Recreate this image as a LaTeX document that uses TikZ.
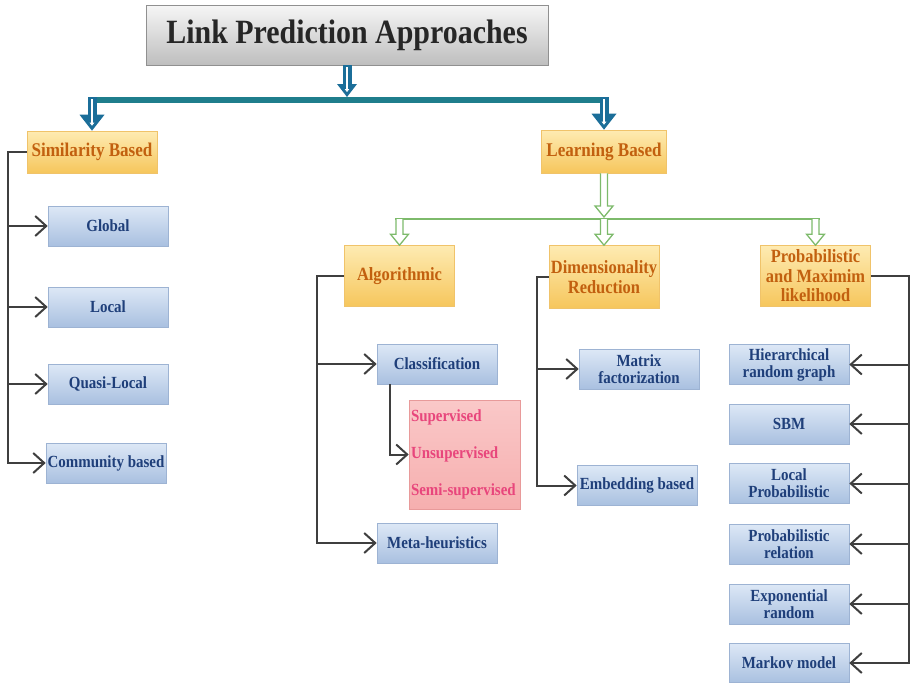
\documentclass[tikz,border=0pt]{standalone}
\usepackage{fontspec}
\setmainfont{Liberation Serif}
\newfontfamily\diagfont{Liberation Serif}[FakeStretch=0.88]
\usetikzlibrary{arrows.meta,calc}

\definecolor{titletop}{HTML}{F6F6F6}
\definecolor{titlebot}{HTML}{BEBEBE}
\definecolor{titleedge}{HTML}{909090}
\definecolor{titletext}{HTML}{262626}
\definecolor{ytop}{HTML}{FEEBB2}
\definecolor{ybot}{HTML}{F6C65C}
\definecolor{yedge}{HTML}{F0C36A}
\definecolor{ytext}{HTML}{C2600F}
\definecolor{btop}{HTML}{DDE8F6}
\definecolor{bbot}{HTML}{A9C0E0}
\definecolor{bedge}{HTML}{9DB3D3}
\definecolor{btext}{HTML}{1F3F7A}
\definecolor{ptop}{HTML}{FAC8C8}
\definecolor{pbot}{HTML}{F6AFAF}
\definecolor{pedge}{HTML}{E89A9A}
\definecolor{ptext}{HTML}{E8467C}
\definecolor{conngray}{HTML}{3F3F3F}
\definecolor{arrowblue}{HTML}{1B6E99}
\definecolor{barteal}{HTML}{1F7E8C}
\definecolor{arrowgreen}{HTML}{7DBA6B}

% solid blue block arrow with a thin white centre stripe
% #1 tail, #2 tip, #3 half head width, #4 head length
\newcommand\bluearrow[4]{%
  \fill[arrowblue] ($(#1)+(-4.5,0)$) rectangle ($(#2)+(4.5,-#4+1)$);
  \fill[arrowblue] ($(#2)+(-#3,-#4)$) -- ($(#2)+(#3,-#4)$) -- (#2) -- cycle;
  \draw[white, line width=1.5pt, -{Triangle[length=3pt,width=4.5pt]}]
    ($(#1)+(0,2)$) -- ($(#2)+(0,-5)$);
}
% hollow green block arrow, open at its tail
\newcommand\greenarrow[2]{%
  \filldraw[draw=arrowgreen, fill=white, line width=1.3pt]
    ($(#1)+(-3.5,0)$) -- ($(#2)+(-3.5,-11)$) -- ($(#2)+(-9,-11)$) -- (#2)
    -- ($(#2)+(9,-11)$) -- ($(#2)+(3.5,-11)$) -- ($(#1)+(3.5,0)$);
}

\begin{document}
\begin{tikzpicture}[x=1pt, y=-1pt,
  titlebox/.style={draw=titleedge, line width=0.8pt, top color=titletop, bottom color=titlebot,
    minimum width=402pt, minimum height=60pt, text=titletext,
    font=\diagfont\bfseries\fontsize{34}{36}\selectfont},
  ybox/.style={draw=yedge, line width=0.6pt, top color=ytop, bottom color=ybot,
    minimum width=110pt, minimum height=61pt, inner sep=1pt, align=center, text=ytext,
    font=\diagfont\bfseries\fontsize{18.7}{19.5}\selectfont},
  bbox/.style={draw=bedge, line width=0.6pt, top color=btop, bottom color=bbot,
    minimum width=120pt, minimum height=40pt, inner sep=1pt, align=center, text=btext,
    font=\diagfont\bfseries\fontsize{17}{17}\selectfont},
  pbox/.style={draw=pedge, line width=0.6pt, top color=ptop, bottom color=pbot,
    minimum width=111pt, minimum height=109pt, inner xsep=2pt, text width=107pt,
    align=left, text=ptext, font=\diagfont\bfseries\fontsize{17}{17}\selectfont},
  conn/.style={draw=conngray, line width=2pt},
  arr/.style={-{Straight Barb[length=11pt,width=20pt]}}]
\useasboundingbox (0,0) rectangle (911,683);

% title
\node[titlebox] (title) at (347,35) {Link Prediction Approaches};

% first level
\node[ybox, minimum width=130pt, minimum height=42pt] (sim) at (92,152) {\fontsize{19.4}{19.5}\selectfont Similarity Based};
\node[ybox, minimum width=125pt, minimum height=43pt] (learn) at (604,151.5) {\fontsize{19.4}{19.5}\selectfont Learning Based};

% similarity based methods
\node[bbox] (glob)  at (108,226) {Global};
\node[bbox] (loc)   at (108,307) {Local};
\node[bbox] (quasi) at (108,384) {Quasi-Local};
\node[bbox] (comm)  at (106,463) {Community based};

% learning based families
\node[ybox] (alg)  at (399.5,276) {Algorithmic};
\node[ybox, minimum height=63pt] (dim) at (604,277) {Dimensionality\\Reduction};
\node[ybox] (prob) at (815.5,276) {Probabilistic\\and Maximim\\likelihood};

% algorithmic
\node[bbox] (cls)  at (437,364) {Classification};
\node[pbox] (pink) at (464.5,454.5) {Supervised\\[20pt]Unsupervised\\[20pt]Semi-supervised};
\node[bbox] (meta) at (437,543) {Meta-heuristics};

% dimensionality reduction
\node[bbox] (mat) at (639,369) {Matrix\\factorization};
\node[bbox] (emb) at (637,485.5) {Embedding based};

% probabilistic models
\node[bbox] (hrg)    at (789,364.5) {Hierarchical\\random graph};
\node[bbox] (sbm)    at (789,424) {SBM};
\node[bbox] (lprob)  at (789,483.5) {Local\\Probabilistic};
\node[bbox] (prel)   at (789,544) {Probabilistic\\relation};
\node[bbox] (expr)   at (789,604) {Exponential\\random};
\node[bbox, minimum height=39pt] (markov) at (789,663) {Markov model};

% blue split below the title
\coordinate (barlevel) at (0,97);
\coordinate (tjoin) at (title.south |- barlevel);
\coordinate (barL) at (sim.north |- barlevel);
\coordinate (barR) at (learn.north |- barlevel);
\fill[barteal] ($(barL)+(-4.5,0)$) rectangle ($(barR)+(4.5,5.5)$);
\bluearrow{title.south}{tjoin}{10}{13}
\bluearrow{barL}{sim.north}{12.5}{16}
\bluearrow{barR}{learn.north}{12.5}{16}

% green split below learning based
\coordinate (glevel) at (0,219);
\coordinate (gtip) at (learn.south |- 0,217);
\coordinate (gL) at (alg.north |- glevel);
\coordinate (gM) at (dim.north |- glevel);
\coordinate (gR) at (prob.north |- glevel);
\draw[arrowgreen, line width=2.5pt] ($(gL)+(-4.2,0)$) -- ($(gR)+(4.2,0)$);
\greenarrow{learn.south}{gtip}
\greenarrow{gL}{alg.north}
\greenarrow{gM}{dim.north}
\greenarrow{gR}{prob.north}

% similarity based tree
\coordinate (simspine) at (8,0);
\draw[conn, arr] (sim.west) -| (simspine |- comm.west) -- (comm.west);
\foreach \b in {glob,loc,quasi}
  \draw[conn, arr] (simspine |- \b.west) -- (\b.west);

% algorithmic tree
\coordinate (algspine) at (317,0);
\draw[conn, arr] (alg.west) -| (algspine |- meta.west) -- (meta.west);
\draw[conn, arr] (algspine |- cls.west) -- (cls.west);
\coordinate (clsdrop) at (390,0);
\draw[conn, arr] (clsdrop |- cls.south) |- (pink.west);

% dimensionality reduction tree
\coordinate (dimspine) at (537,0);
\draw[conn, arr] (dim.west) -| (dimspine |- emb.west) -- (emb.west);
\draw[conn, arr] (dimspine |- mat.west) -- (mat.west);

% probabilistic tree
\coordinate (probspine) at (909,0);
\draw[conn, arr] (prob.east) -| (probspine |- markov.east) -- (markov.east);
\foreach \b in {hrg,sbm,lprob,prel,expr}
  \draw[conn, arr] (probspine |- \b.east) -- (\b.east);
\end{tikzpicture}
\end{document}
